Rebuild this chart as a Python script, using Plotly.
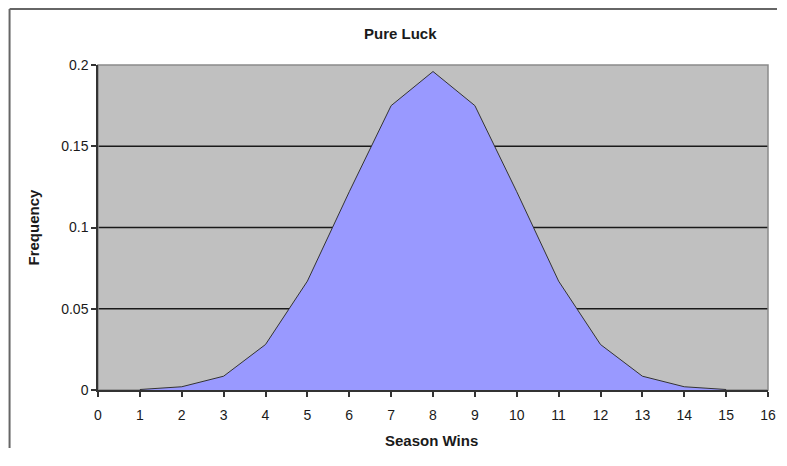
import plotly.graph_objects as go

# season wins vs. frequency
wins = [1, 2, 3, 4, 5, 6, 7, 8, 9, 10, 11, 12, 13, 14, 15]
freq = [0.0003, 0.002, 0.0085, 0.028, 0.067, 0.122, 0.175, 0.196,
        0.175, 0.122, 0.067, 0.028, 0.0085, 0.002, 0.0003]

x_ticks = list(range(0, 17))
y_ticks = [0, 0.05, 0.1, 0.15, 0.2]
y_labels = ["0", "0.05", "0.1", "0.15", "0.2"]
grid_vals = [0.05, 0.1, 0.15]

font = "Arial, Liberation Sans, sans-serif"

fig = go.Figure(go.Scatter(
    x=wins, y=freq, mode="lines", fill="tozeroy",
    fillcolor="#9999FF", line=dict(color="#333333", width=1),
    hoverinfo="x+y",
))

shapes = []
for g in grid_vals:
    shapes.append(dict(type="line", xref="paper", yref="y", x0=0, x1=1, y0=g, y1=g,
                       line=dict(color="#1a1a1a", width=1.5), layer="below"))
# plot frame
shapes.append(dict(type="rect", xref="paper", yref="paper", x0=0, x1=1, y0=0, y1=1,
                   line=dict(color="#8a8a8a", width=1.5), layer="below"))
# outer chart border (left / top)
shapes.append(dict(type="line", xref="paper", yref="paper", x0=-0.132, x1=-0.132,
                   y0=-0.25, y1=1.172, line=dict(color="#666666", width=2)))
shapes.append(dict(type="line", xref="paper", yref="paper", x0=-0.132, x1=1.03,
                   y0=1.172, y1=1.172, line=dict(color="#666666", width=2)))

# page adds an 8px body margin, so the figure is kept inside the viewport
fig.update_layout(
    width=769, height=440,
    margin=dict(l=90, r=9, t=57, b=58),
    paper_bgcolor="white", plot_bgcolor="#C0C0C0",
    showlegend=False,
    font=dict(family=font, size=14, color="#1a1a1a"),
    shapes=shapes,
    annotations=[
        dict(text="<b>Pure Luck</b>", xref="paper", yref="paper", x=0.452, y=1.098,
             showarrow=False, font=dict(size=15), xanchor="center", yanchor="middle"),
        dict(text="<b>Season Wins</b>", xref="paper", yref="paper", x=0.4985, y=-0.155,
             showarrow=False, font=dict(size=15), xanchor="center", yanchor="middle"),
        dict(text="<b>Frequency</b>", xref="paper", yref="paper", x=-0.097, y=0.5,
             showarrow=False, font=dict(size=15), textangle=-90,
             xanchor="center", yanchor="middle"),
    ],
)
fig.update_xaxes(
    range=[0, 16], tickvals=x_ticks, showgrid=False, zeroline=False, automargin=False,
    showline=True, linecolor="#333333", linewidth=1.5,
    ticks="outside", ticklen=5, tickcolor="#333333", tickwidth=1.5,
    ticklabelstandoff=6, tickfont=dict(size=14),
)
fig.update_yaxes(
    range=[0, 0.2], tickvals=y_ticks, ticktext=y_labels, showgrid=False, zeroline=False,
    automargin=False, showline=True, linecolor="#333333", linewidth=1.5,
    ticks="outside", ticklen=5, tickcolor="#333333", tickwidth=1.5,
    tickfont=dict(size=14),
)

fig.write_html("out.html")
